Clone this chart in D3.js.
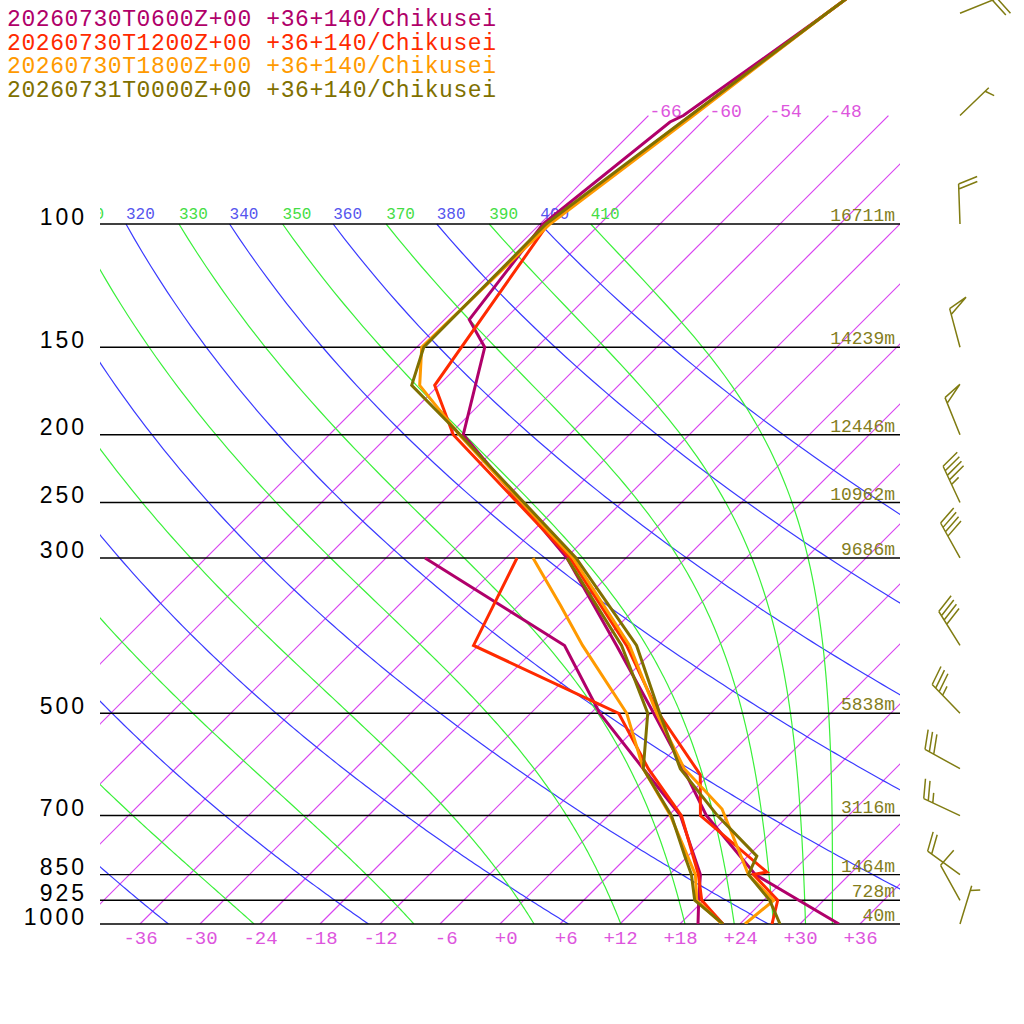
<!DOCTYPE html>
<html>
<head>
<meta charset="utf-8">
<script src="https://cdn.jsdelivr.net/npm/d3@7"></script>
<style>
  body { margin: 0; background: #fff; }
  text { font-family: "Liberation Mono", monospace; }
</style>
</head>
<body>
<div id="chart"></div>
<script>
// ---- data ----
var runLabels = ["20260730T0600Z+00", "20260730T1200Z+00", "20260730T1800Z+00", "20260731T0000Z+00"];
var site = "+36+140/Chikusei";
var runColors = ["#b0006a", "#ff2a00", "#ff9a00", "#807000"];

var levels = [100, 150, 200, 250, 300, 500, 700, 850, 925, 1000];
var heights = ["16711m", "14239m", "12446m", "10962m", "9686m", "5838m", "3116m", "1464m", "728m", "40m"];
var tempTicks = [-36, -30, -24, -18, -12, -6, 0, 6, 12, 18, 24, 30, 36];
var isotherms = [-66, -60, -54, -48, -42, -36, -30, -24, -18, -12, -6, 0, 6, 12, 18, 24, 30, 36];
var isothermLabels = [-66, -60, -54, -48];
var dryTheta = [240, 260, 280, 300, 320, 340, 360, 380, 400];
var moistThetaE = [250, 270, 290, 310, 330, 350, 370, 390, 410];
var dryLabels = [320, 340, 360, 380, 400];
var moistLabels = [310, 330, 350, 370, 390, 410];

// temperature profiles (hPa, degC)
var p06 = [1000, 850, 700, 600, 500, 400, 300, 200, 150, 137, 100, 71.5, 70, 50, 30];
var t06 = [33.9, 20.6, 9.8, 2.8, -5.7, -16.2, -29.9, -52.6, -59.2, -63.5, -65.7, -63.2, -62.5, -58.4, -53];
var p12 = [1000, 925, 850, 843, 700, 612, 500, 400, 300, 200, 170, 100, 70, 50, 30];
var t12 = [27.2, 25.4, 20.4, 21.5, 9.2, 5.1, -5.2, -15.2, -29.6, -53.6, -60.4, -65.2, -61.8, -58.4, -53];
var p18 = [1000, 925, 850, 685, 600, 500, 400, 300, 200, 170, 150, 100, 70, 50, 30];
var t18 = [24.5, 25.0, 19.9, 10.7, 2.9, -5.4, -14.9, -29.3, -53.0, -61.9, -65.5, -65.0, -61.5, -58.4, -53];
var p00 = [1000, 925, 850, 800, 700, 600, 500, 400, 300, 200, 170, 150, 100, 70, 50, 30];
var t00 = [28.0, 24.6, 19.9, 18.9, 10.9, 2.5, -5.1, -14.2, -29.0, -52.9, -62.7, -65.3, -65.4, -61.8, -58.4, -53];

// dew point profiles (hPa, degC)
var pd06 = [1000, 925, 850, 700, 600, 500, 400, 300];
var td06 = [19.8, 17.5, 15.1, 7.2, -1.2, -11.1, -21.4, -44.1];
var pd12 = [1000, 925, 850, 700, 600, 500, 400, 300];
var td12 = [22.3, 17.8, 14.9, 7.3, -0.7, -9.2, -30.5, -34.9];
var pd18 = [1000, 925, 850, 700, 600, 500, 400, 350, 300];
var td18 = [22.2, 17.3, 14.6, 6.2, -1.2, -8.4, -19.6, -25.9, -33.3];
var pd00 = [1000, 925, 850, 800, 700, 600, 500, 400, 300];
var td00 = [22.3, 17.1, 14.2, 11.7, 6.3, -1.2, -6.3, -15.7, -29.9];

// winds of the last run (hPa, direction deg, speed kt)
var windP = [50, 70, 100, 150, 200, 250, 300, 400, 500, 600, 700, 850, 925, 1000];
var windDir = [68, 46, 358, 345, 338, 335, 331, 328, 316, 299, 295, 306, 331, 17];
var windKt = [20, 5, 20, 50, 50, 45, 40, 40, 35, 30, 25, 20, 10, 5];

// ---- layout ----
var W = 1024, H = 1024;
var left = 100, right = 900, bottom = 924;

var svg = d3.select("#chart").append("svg")
  .attr("width", W).attr("height", H);

var y = d3.scaleLog().domain([1000, 100]).range([bottom, 224]);
var xs = d3.scaleLinear().domain([-40, 40]).range([left, right]);
// skewed x: 45 degree isotherms
function X(t, p) { return xs(t) + (bottom - y(p)); }

svg.append("clipPath").attr("id", "plot")
  .append("rect").attr("x", left).attr("y", 0).attr("width", right - left).attr("height", bottom);

var grid = svg.append("g").attr("clip-path", "url(#plot)");
var curve = d3.line().x(d => X(d[0], d[1])).y(d => y(d[1]));

// isotherms 1000 -> 70 hPa
grid.selectAll("path.iso")
  .data(isotherms)
  .join("path")
  .attr("class", "iso")
  .attr("d", t => curve([[t, 1000], [t, 70]]))
  .attr("fill", "none")
  .attr("stroke", "#d844f0")
  .attr("stroke-width", 1.2);

// sample pressures for curved lines
var pSteps = d3.range(1000, 99, -5);

function dryT(theta, p) { return theta * Math.pow(p / 1000, 0.2857) - 273.15; }

function thetaE(tc, p) {
  var T = tc + 273.15;
  var es = 6.112 * Math.exp(17.67 * tc / (tc + 243.5));
  var r = 622 * es / (p - es);
  return T * Math.pow(1000 / p, 0.2854 * (1 - 0.00028 * r)) *
    Math.exp((3.376 / T - 0.00254) * r * (1 + 0.00081 * r));
}
function moistT(te, p) {
  var lo = -140, hi = 60;
  for (var i = 0; i < 50; i++) {
    var mid = (lo + hi) / 2;
    if (thetaE(mid, p) > te) hi = mid; else lo = mid;
  }
  return (lo + hi) / 2;
}

grid.selectAll("path.dry")
  .data(dryTheta)
  .join("path")
  .attr("class", "dry")
  .attr("d", th => curve(pSteps.map(p => [dryT(th, p), p])))
  .attr("fill", "none").attr("stroke", "#3a3aff").attr("stroke-width", 1.2);

grid.selectAll("path.moist")
  .data(moistThetaE)
  .join("path")
  .attr("class", "moist")
  .attr("d", te => curve(pSteps.map(p => [moistT(te, p), p])))
  .attr("fill", "none").attr("stroke", "#3af03a").attr("stroke-width", 1.2);

// theta labels along 100 hPa
grid.selectAll("text.dryLab")
  .data(dryLabels)
  .join("text")
  .attr("class", "dryLab")
  .attr("x", th => X(dryT(th, 100), 100)).attr("y", 219)
  .attr("font-size", 16).attr("fill", "#5555ee")
  .text(th => th);
grid.selectAll("text.moistLab")
  .data(moistLabels)
  .join("text")
  .attr("class", "moistLab")
  .attr("x", te => X(moistT(te, 100), 100)).attr("y", 219)
  .attr("font-size", 16).attr("fill", "#44dd44")
  .text(te => te);

// isotherm labels at the top end
svg.selectAll("text.isoLab")
  .data(isothermLabels)
  .join("text")
  .attr("class", "isoLab")
  .attr("x", d => X(d, 70) + 1).attr("y", y(70) + 1)
  .attr("font-size", 18).attr("fill", "#dd55dd")
  .text(d => d);

// pressure lines
svg.selectAll("line.plev")
  .data(levels)
  .join("line")
  .attr("class", "plev")
  .attr("x1", left).attr("x2", right)
  .attr("y1", d => y(d)).attr("y2", d => y(d))
  .attr("stroke", "#000").attr("stroke-width", 1.4);

// pressure axis labels
var yAxis = svg.append("g")
  .attr("transform", "translate(87,0)")
  .call(d3.axisLeft(y).tickValues(levels).tickSize(0).tickPadding(0).tickFormat(d3.format("d")));
yAxis.select(".domain").remove();
yAxis.selectAll("text")
  .attr("dy", 0)
  .style("font-family", "'Liberation Sans', sans-serif")
  .style("font-size", "23px")
  .style("letter-spacing", "3px")
  .attr("fill", "#000");

// temperature axis labels
var xAxis = svg.append("g")
  .attr("transform", "translate(0,944)")
  .call(d3.axisBottom(xs).tickValues(tempTicks).tickSize(0).tickPadding(0)
    .tickFormat(t => (t < 0 ? "-" : "+") + Math.abs(t)));
xAxis.select(".domain").remove();
xAxis.selectAll("text")
  .attr("y", 0).attr("dy", 0)
  .attr("dx", t => Math.abs(t) < 10 ? "0.3em" : 0)
  .style("font-family", "'Liberation Mono', monospace")
  .style("font-size", "19px")
  .attr("fill", "#dd55dd");

// heights
svg.selectAll("text.hgt")
  .data(levels)
  .join("text")
  .attr("class", "hgt")
  .attr("x", 895).attr("y", d => y(d) - 3)
  .attr("text-anchor", "end")
  .attr("font-size", 18).attr("fill", "#837d1c")
  .text((d, i) => heights[i]);

// profiles
var series = [
  { p: p06, t: t06, pd: pd06, td: td06 },
  { p: p12, t: t12, pd: pd12, td: td12 },
  { p: p18, t: t18, pd: pd18, td: td18 },
  { p: p00, t: t00, pd: pd00, td: td00 }
];
var prof = svg.append("g").attr("clip-path", "url(#plot)");
series.forEach(function(s, i) {
  var temp = s.p.map((p, j) => [s.t[j], p]);
  var dew = s.pd.map((p, j) => [s.td[j], p]);
  [dew, temp].forEach(function(pts) {
    prof.append("path")
      .attr("d", curve(pts))
      .attr("fill", "none")
      .attr("stroke", runColors[i])
      .attr("stroke-width", 3);
  });
});

// legend
svg.selectAll("text.leg")
  .data(runLabels)
  .join("text")
  .attr("class", "leg")
  .attr("x", 7).attr("y", (d, i) => 26 + i * 23.5)
  .attr("font-size", 23)
  .style("letter-spacing", "0.6px")
  .attr("fill", (d, i) => runColors[i])
  .text(d => d + " " + site);

// wind barbs
function barbPath(x0, y0, dir, kt) {
  var a = dir * Math.PI / 180;
  var dx = Math.sin(a), dy = -Math.cos(a);
  var r = 70 * Math.PI / 180;
  var bx = dx * Math.cos(r) - dy * Math.sin(r);
  var by = dx * Math.sin(r) + dy * Math.cos(r);
  var L = 40, B = 20, S = 5;
  var tx = x0 + L * dx, ty = y0 + L * dy;
  var path = d3.path();
  path.moveTo(x0, y0); path.lineTo(tx, ty);
  var rest = kt, pos = 0;
  while (rest >= 50) {
    var px = tx - pos * dx, py = ty - pos * dy;
    path.moveTo(px, py);
    path.lineTo(px + B * bx, py + B * by);
    path.lineTo(px - 6 * dx, py - 6 * dy);
    pos += 6 + S; rest -= 50;
  }
  while (rest >= 10) {
    var qx = tx - pos * dx, qy = ty - pos * dy;
    path.moveTo(qx, qy); path.lineTo(qx + B * bx, qy + B * by);
    pos += S; rest -= 10;
  }
  if (rest >= 5) {
    if (pos === 0) pos = S;
    var hx = tx - pos * dx, hy = ty - pos * dy;
    path.moveTo(hx, hy); path.lineTo(hx + B / 2 * bx, hy + B / 2 * by);
  }
  return path.toString();
}

svg.selectAll("path.barb")
  .data(windP)
  .join("path")
  .attr("class", "barb")
  .attr("d", (p, i) => barbPath(960, y(p), windDir[i], windKt[i]))
  .attr("fill", "none")
  .attr("stroke", "#807c12")
  .attr("stroke-width", 1.5);
</script>
</body>
</html>
